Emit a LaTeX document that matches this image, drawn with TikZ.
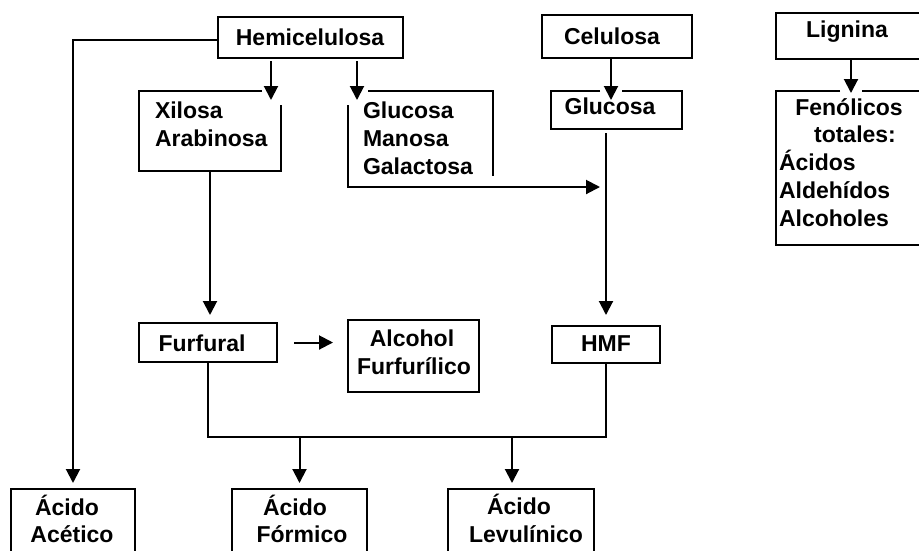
\documentclass[tikz,border=0pt]{standalone}
\usepackage{fontspec}
\setmainfont{Liberation Sans}
\usetikzlibrary{arrows.meta,calc}
\begin{document}
\begin{tikzpicture}[x=1pt,y=-1pt,
  every node/.style={font=\fontsize{23}{28}\selectfont\bfseries, inner sep=0pt, outer sep=0pt},
  box/.style={anchor=north west},
  drawn/.style={draw, line width=2pt},
  ln/.style={line width=2pt},
  arr/.style={line width=2pt, -{Triangle[length=14pt,width=14pt]}},
  tc/.style={anchor=base},
  tw/.style={anchor=base west}]
\useasboundingbox (0,0) rectangle (919,550);
\fill[white] (0,0) rectangle (919,550);
\clip (0,0) rectangle (919,550);

% ---------- boxes ----------
\node[box,drawn,minimum width=185pt,minimum height=41pt] (hemi) at (218,17) {};
\node[box,drawn,minimum width=150pt,minimum height=43pt] (celu) at (542,15) {};
\node[box,drawn,minimum width=160pt,minimum height=46pt] (lign) at (776,13) {};
\node[box,minimum width=142pt,minimum height=80pt] (xil) at (139,91) {};
\node[box,minimum width=145pt,minimum height=96pt] (gmg) at (348,91) {};
\node[box,minimum width=131pt,minimum height=38pt] (gluc) at (551,91) {};
\node[box,minimum width=160pt,minimum height=154pt] (fen) at (776,91) {};
\node[box,drawn,minimum width=138pt,minimum height=39pt] (furf) at (139,323) {};
\node[box,drawn,minimum width=131pt,minimum height=72pt] (alc) at (348,320) {};
\node[box,drawn,minimum width=108pt,minimum height=37pt] (hmf) at (552,326) {};
\node[box,drawn,minimum width=124pt,minimum height=90pt] (acet) at (11,489) {};
\node[box,drawn,minimum width=135pt,minimum height=90pt] (form) at (232,489) {};
\node[box,drawn,minimum width=146pt,minimum height=90pt] (levu) at (448,489) {};

% ---------- partially open outlines ----------
\draw[ln] ($(xil.north east)+(-19,0)$) -- (xil.north west) -- (xil.south west)
  -- (xil.south east) -- ($(xil.north east)+(0,14)$);
\draw[ln] ($(gmg.north west)+(20,0)$) -- (gmg.north east) -- ($(gmg.south east)+(0,-11)$);
\coordinate (ga) at (611,0);
\draw[ln] ($(gluc.north -| ga)+(-11,0)$) -- (gluc.north west) -- (gluc.south west)
  -- (gluc.south east) -- (gluc.north east) -- ($(gluc.north -| ga)+(11,0)$);
\coordinate (fa) at (851,0);
\draw[ln] ($(fen.north -| fa)+(-11,0)$) -- (fen.north west) -- (fen.south west)
  -- (fen.south east) -- (fen.north east) -- ($(fen.north -| fa)+(11,0)$);

% ---------- texts ----------
\node[tc] (themi) at (310,45) {Hemicelulosa};
\node[tc] (tcelu) at (612,44) {Celulosa};
\node[tc] (tlign) at (847,37) {Lignina};
\node[tw] (txil1) at (155,118) {Xilosa};
\node[tw] (txil2) at (155,146) {Arabinosa};
\node[tw] (tgmg1) at (363,118) {Glucosa};
\node[tw] (tgmg2) at (363,146) {Manosa};
\node[tw] (tgmg3) at (363,174) {Galactosa};
\node[tc] (tgluc) at (610,114) {Glucosa};
\node[tc] (tfen1) at (849,115) {Fenólicos};
\node[tc] (tfen2) at (855,142) {totales:};
\node[tw] (tfen3) at (779,170) {Ácidos};
\node[tw] (tfen4) at (779,198) {Aldehídos};
\node[tw] (tfen5) at (779,226) {Alcoholes};
\node[tc] (tfurf) at (202,351) {Furfural};
\node[tc] (talc1) at (412,346) {Alcohol};
\node[tc] (talc2) at (414,374) {Furfurílico};
\node[tc] (thmf) at (606,351) {HMF};
\node[tc] (tacet1) at (67,515) {Ácido};
\node[tc] (tacet2) at (72,542) {Acético};
\node[tc] (tform1) at (295,515) {Ácido};
\node[tc] (tform2) at (302,542) {Fórmico};
\node[tc] (tlevu1) at (519,514) {Ácido};
\node[tc] (tlevu2) at (526,542) {Levulínico};

% ---------- connectors ----------
\draw[arr] ($(hemi.west)+(0,2)$) -| ($(acet.north)+(0,-6)$);
\draw[arr] ($(hemi.south)+(-39.5,3)$) coordinate (h1) -- ($(xil.north -| h1)+(0,9)$);
\draw[arr] ($(hemi.south)+(46.5,3)$) coordinate (h2) -- ($(gmg.north -| h2)+(0,9)$);
\draw[arr] (celu.south -| ga) -- ($(gluc.north -| ga)+(0,9)$);
\draw[arr] (lign.south -| fa) -- ($(fen.north -| fa)+(0,2)$);
\draw[arr] ($(gmg.north west)+(0,14)$) -- (gmg.south west) -- ($(gmg.south west -| hmf.north)+(-6,0)$);
\draw[arr] ($(gluc.south -| hmf.north)+(0,4)$) -- ($(hmf.north)+(0,-11)$);
\draw[arr] (xil.south) -- ($(furf.north -| xil.south)+(0,-8)$);
\draw[arr] ($(furf.east)+(17,0)$) -- ($(alc.west |- furf.east)+(-15,0)$);
\coordinate (jn) at (0,437);
\draw[ln] (furf.south) |- (jn -| hmf.south) -- (hmf.south);
\draw[arr] (jn -| form.north) -- ($(form.north)+(0,-6)$);
\coordinate (lv) at (512,0);
\draw[arr] (jn -| lv) -- ($(levu.north -| lv)+(0,-6)$);
\end{tikzpicture}
\end{document}
